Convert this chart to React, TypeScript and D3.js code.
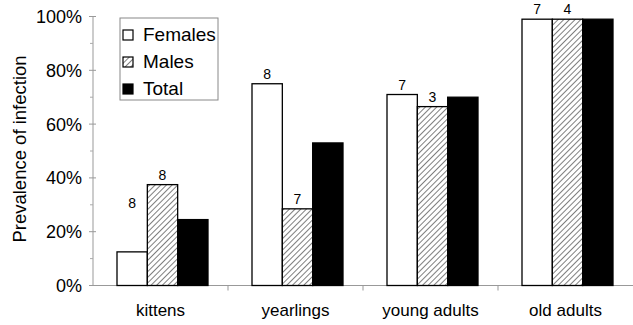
import React from "react";
import * as d3 from "d3";

const categories = ["kittens", "yearlings", "young adults", "old adults"];
const seriesNames = ["Females", "Males", "Total"];
const females = [12.5, 75, 71, 99];
const males = [37.5, 28.5, 66.5, 99];
const totals = [24.5, 53, 70, 99];
const femaleCounts = ["8", "8", "7", "7"];
const maleCounts = ["8", "7", "3", "4"];
const femaleCountLevel = [27, null, null, null];
const yTicks = [0, 20, 40, 60, 80, 100];
const yMinorTicks = [10, 30, 50, 70, 90];

const W = 633;
const H = 325;
const FONT = "'Liberation Sans', Arial, sans-serif";

export default function App() {
  const plotLeft = 93;
  const plotRight = 633;
  const y = d3.scaleLinear().domain([0, 100]).range([285.5, 16.5]);
  const x0 = d3.scaleBand<string>().domain(categories).range([plotLeft, plotRight]);
  const x1 = d3
    .scaleBand<string>()
    .domain(seriesNames)
    .range([24, x0.bandwidth() - 20]);

  const seriesValues = [females, males, totals];
  const fills = ["#fff", "url(#hatch)", "#000"];

  const bars: React.ReactNode[] = [];
  const labels: React.ReactNode[] = [];
  categories.forEach((c, ci) => {
    seriesNames.forEach((s, si) => {
      const v = seriesValues[si][ci];
      const bx = (x0(c) ?? 0) + (x1(s) ?? 0);
      const bw = x1.bandwidth();
      bars.push(
        <rect
          key={c + s}
          x={bx}
          y={y(v)}
          width={bw}
          height={y(0) - y(v)}
          fill={fills[si]}
          stroke="#000"
          strokeWidth={1.3}
        />
      );
      if (si < 2) {
        const txt = si === 0 ? femaleCounts[ci] : maleCounts[ci];
        const lvl = si === 0 && femaleCountLevel[ci] != null ? (femaleCountLevel[ci] as number) : v;
        labels.push(
          <text
            key={"l" + c + s}
            x={bx + bw / 2}
            y={y(lvl) - 5}
            textAnchor="middle"
            fontSize={14}
            fontFamily={FONT}
            fill="#000"
          >
            {txt}
          </text>
        );
      }
    });
  });

  const catBoundaries = categories.slice(1).map((c) => x0(c) ?? 0);

  return (
    <svg
      width={W}
      height={H}
      style={{ position: "absolute", left: 0, top: 0, background: "#fff" }}
    >
      <defs>
        <pattern id="hatch" width="4" height="4" patternUnits="userSpaceOnUse" patternTransform="rotate(45)">
          <rect width="4" height="4" fill="#fff" />
          <line x1="0" y1="0" x2="0" y2="4" stroke="#000" strokeWidth={1} />
        </pattern>
      </defs>

      {/* y axis */}
      <line x1={plotLeft} x2={plotLeft} y1={y(100)} y2={y(0)} stroke="#999" strokeWidth={1} />
      {yTicks.map((t) => (
        <g key={"yt" + t}>
          <line x1={plotLeft - 4} x2={plotLeft + 3} y1={y(t)} y2={y(t)} stroke="#999" />
          <text
            x={82}
            y={y(t)}
            dy="0.36em"
            textAnchor="end"
            fontSize={18}
            fontFamily={FONT}
            fill="#000"
          >
            {t}%
          </text>
        </g>
      ))}
      {yMinorTicks.map((t) => (
        <line key={"ym" + t} x1={plotLeft - 3} x2={plotLeft} y1={y(t)} y2={y(t)} stroke="#aaa" />
      ))}

      {/* x axis */}
      <line x1={plotLeft - 4} x2={plotRight} y1={y(0)} y2={y(0)} stroke="#999" strokeWidth={1} />
      {catBoundaries.map((b, i) => (
        <line key={"xt" + i} x1={b} x2={b} y1={y(0)} y2={y(0) + 5} stroke="#999" />
      ))}

      {bars}
      {labels}

      {categories.map((c) => (
        <text
          key={"c" + c}
          x={(x0(c) ?? 0) + x0.bandwidth() / 2}
          y={316}
          textAnchor="middle"
          fontSize={17}
          fontFamily={FONT}
          fill="#000"
        >
          {c}
        </text>
      ))}

      <text
        transform={`translate(26, 149) rotate(-90)`}
        textAnchor="middle"
        fontSize={18.5}
        fontFamily={FONT}
        fill="#000"
      >
        Prevalence of infection
      </text>

      {/* legend */}
      <rect x={120} y={18} width={98} height={82} fill="#fff" stroke="#888" strokeWidth={1} />
      {seriesNames.map((s, i) => (
        <g key={"lg" + s} transform={`translate(123, ${30 + i * 27})`}>
          <rect x={0} y={0} width={10} height={10} fill={fills[i]} stroke="#000" strokeWidth={1.2} />
          <text x={20} y={11} fontSize={19} fontFamily={FONT} fill="#000">
            {s}
          </text>
        </g>
      ))}
    </svg>
  );
}
